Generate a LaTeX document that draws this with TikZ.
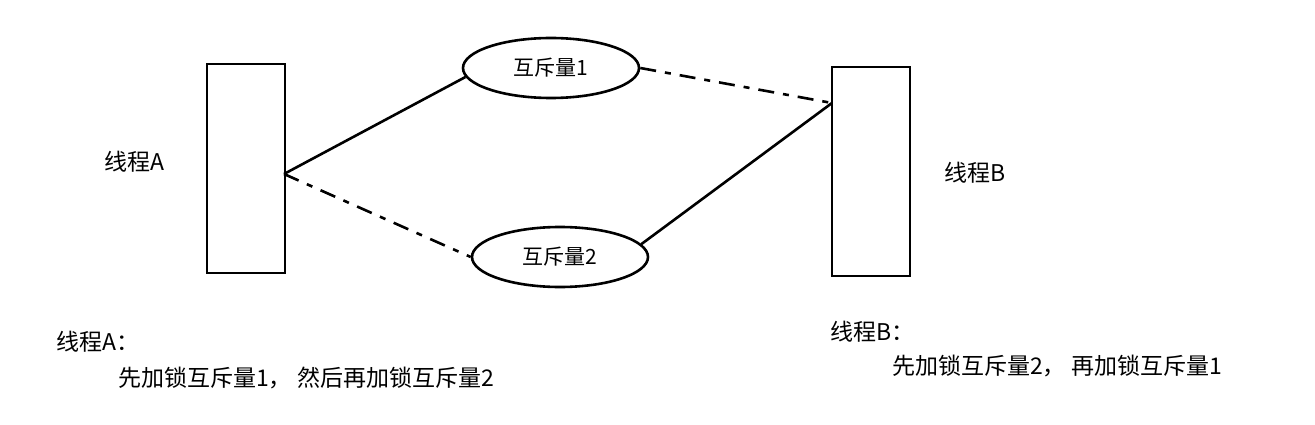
\documentclass[tikz,border=0pt]{standalone}
\usepackage{fontspec}
\newfontfamily\cjk{Noto Sans CJK SC}
\setmainfont{Liberation Serif}
\usetikzlibrary{shapes.geometric}

\tikzset{
  thread/.style={draw, line width=2.6pt, minimum width=78pt, minimum height=209pt, inner sep=0pt},
  mutex/.style={draw, ellipse, line width=2.6pt, minimum width=176pt, minimum height=60pt, inner sep=0pt, font=\cjk\fontsize{21}{24}\selectfont},
  label/.style={font=\cjk\fontsize{23}{26}\selectfont, anchor=west, inner sep=0pt},
  held/.style={line width=2.6pt},
  waits/.style={line width=2.6pt, dash pattern=on 16pt off 9pt on 6pt off 9pt},
}

\begin{document}
\begin{tikzpicture}[x=1pt, y=-1pt]
\useasboundingbox (0,0) rectangle (1315,425);

% threads
\node[thread] (ta) at (246,168.5) {};
\node[thread] (tb) at (871,171.5) {};
\node[label] (la) at (104,162) {线程A};
\node[label] (lb) at (944,173) {线程B};

% mutexes
\node[mutex] (m1) at (551,68) {互斥量1};
\node[mutex] (m2) at (560,257) {互斥量2};

% contact points on the threads
\coordinate (pa) at (284,174);
\coordinate (pb) at (832,103);

\draw[held] (pa) -- (m1.186);
\draw[waits] (pa) -- (m2.west);
\draw[waits] (m1.east) -- (pb);
\draw[held] (m2.9) -- (pb);

% notes
\node[label] (na) at (56,342) {线程A：};
\node[label] (na2) at (118,378) {先加锁互斥量1， 然后再加锁互斥量2};
\node[label] (nb) at (830,332) {线程B：};
\node[label] (nb2) at (892,366) {先加锁互斥量2， 再加锁互斥量1};
\end{tikzpicture}
\end{document}
